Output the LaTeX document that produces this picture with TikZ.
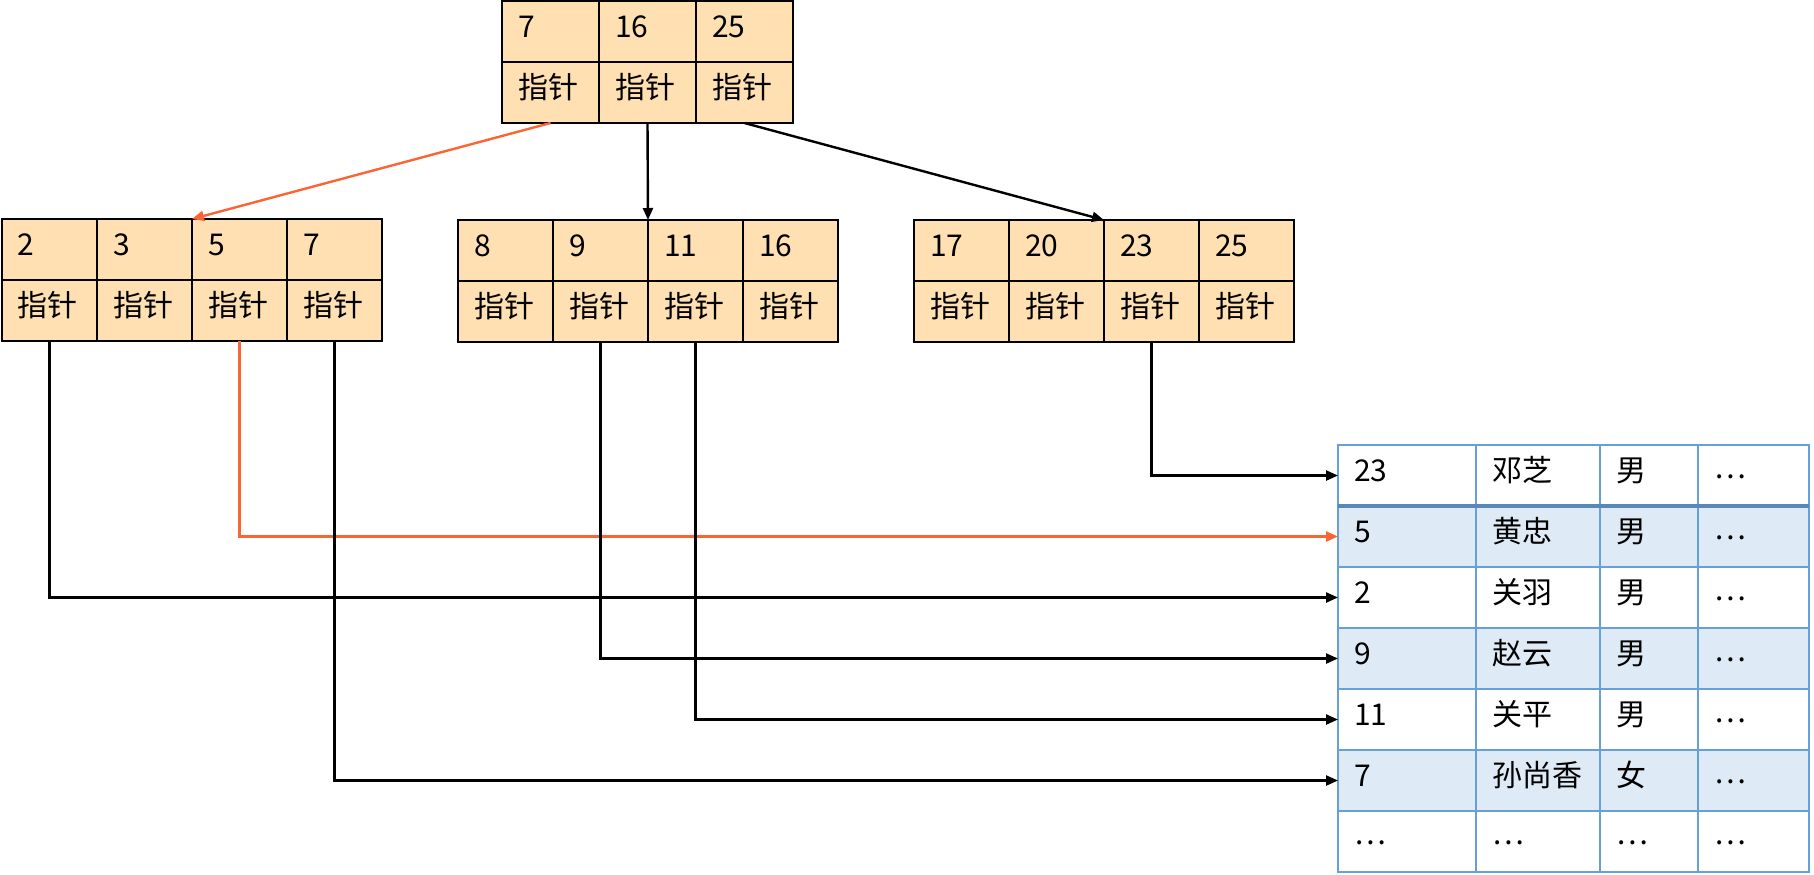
\documentclass[tikz,border=0pt]{standalone}
\usepackage{fontspec}
\setmainfont{Noto Sans CJK SC}
\usepackage{tikz}
\usetikzlibrary{positioning, arrows.meta}

\definecolor{keyfill}{RGB}{255,224,178}
\definecolor{rowblue}{RGB}{222,234,246}
\definecolor{tableline}{RGB}{102,160,218}
\definecolor{hitorange}{RGB}{250,102,51}

\newcommand{\moredots}{\raisebox{1.5pt}{⋯}}

\begin{document}
\begin{tikzpicture}[
  x=0.5pt, y=-0.5pt,
  node distance=0pt,
  every node/.style={font=\fontsize{15}{17}\selectfont, outer sep=0pt, inner ysep=0pt, inner xsep=8pt, text height=9pt, text depth=3.5pt, align=left},
  rootcell/.style={rectangle, draw, line width=1pt, fill=keyfill, minimum width=48.5pt, text width=32.5pt, minimum height=30.5pt},
  leafcell/.style={rectangle, draw, line width=1pt, fill=keyfill, minimum width=47.5pt, text width=31.5pt, minimum height=30.5pt},
  rowcell/.style={rectangle, draw=tableline, line width=1.2pt, minimum height=30.5pt},
  idcell/.style={rowcell, text width=53pt},
  namecell/.style={rowcell, text width=46pt},
  sexcell/.style={rowcell, text width=33pt},
  morecell/.style={rowcell, text width=39.5pt},
  stripe/.style={fill=rowblue},
  link/.style={-{Triangle[length=6pt, width=5pt]}, line width=1.2pt}
]
\useasboundingbox (0,0) rectangle (1814,874);

%% Root
\node[rootcell] (rk1) at (550.5,31.5) {7};
\node[rootcell, right=of rk1] (rk2) {16};
\node[rootcell, right=of rk2] (rk3) {25};
\node[rootcell, below=of rk1] (rp1) {指针};
\node[rootcell, below=of rk2] (rp2) {指针};
\node[rootcell, below=of rk3] (rp3) {指针};

%% Leaf A
\node[leafcell] (ak1) at (49.5,249.5) {2};
\node[leafcell, right=of ak1] (ak2) {3};
\node[leafcell, right=of ak2] (ak3) {5};
\node[leafcell, right=of ak3] (ak4) {7};
\node[leafcell, below=of ak1] (ap1) {指针};
\node[leafcell, below=of ak2] (ap2) {指针};
\node[leafcell, below=of ak3] (ap3) {指针};
\node[leafcell, below=of ak4] (ap4) {指针};

%% Leaf B
\node[leafcell] (bk1) at (505.5,250.5) {8};
\node[leafcell, right=of bk1] (bk2) {9};
\node[leafcell, right=of bk2] (bk3) {11};
\node[leafcell, right=of bk3] (bk4) {16};
\node[leafcell, below=of bk1] (bp1) {指针};
\node[leafcell, below=of bk2] (bp2) {指针};
\node[leafcell, below=of bk3] (bp3) {指针};
\node[leafcell, below=of bk4] (bp4) {指针};

%% Leaf C
\node[leafcell] (ck1) at (961.5,250.5) {17};
\node[leafcell, right=of ck1] (ck2) {20};
\node[leafcell, right=of ck2] (ck3) {23};
\node[leafcell, right=of ck3] (ck4) {25};
\node[leafcell, below=of ck1] (cp1) {指针};
\node[leafcell, below=of ck2] (cp2) {指针};
\node[leafcell, below=of ck3] (cp3) {指针};
\node[leafcell, below=of ck4] (cp4) {指针};

%% Table
\node[idcell] (id1) at (1407,475.5) {23};
\node[namecell, right=of id1] (name1) {邓芝};
\node[sexcell, right=of name1] (sex1) {男};
\node[morecell, right=of sex1] (more1) {\moredots};

\node[idcell, stripe, below=of id1] (id2) {5};
\node[namecell, stripe, right=of id2] (name2) {黄忠};
\node[sexcell, stripe, right=of name2] (sex2) {男};
\node[morecell, stripe, right=of sex2] (more2) {\moredots};

\node[idcell, below=of id2] (id3) {2};
\node[namecell, right=of id3] (name3) {关羽};
\node[sexcell, right=of name3] (sex3) {男};
\node[morecell, right=of sex3] (more3) {\moredots};

\node[idcell, stripe, below=of id3] (id4) {9};
\node[namecell, stripe, right=of id4] (name4) {赵云};
\node[sexcell, stripe, right=of name4] (sex4) {男};
\node[morecell, stripe, right=of sex4] (more4) {\moredots};

\node[idcell, below=of id4] (id5) {11};
\node[namecell, right=of id5] (name5) {关平};
\node[sexcell, right=of name5] (sex5) {男};
\node[morecell, right=of sex5] (more5) {\moredots};

\node[idcell, stripe, below=of id5] (id6) {7};
\node[namecell, stripe, right=of id6] (name6) {孙尚香};
\node[sexcell, stripe, right=of name6] (sex6) {女};
\node[morecell, stripe, right=of sex6] (more6) {\moredots};

\node[idcell, below=of id6] (id7) {\moredots};
\node[namecell, right=of id7] (name7) {\moredots};
\node[sexcell, right=of name7] (sex7) {\moredots};
\node[morecell, right=of sex7] (more7) {\moredots};

\draw[tableline!85!black, line width=2pt] (id1.south west) -- (more1.south east);

%% Connections
\draw[link, hitorange] (rp1.south) -- (ak3.north west);
\draw[link] (rp2.south) -- (bk3.north west);
\draw[link] (rp3.south) -- (ck3.north west);

\draw[link] (cp3.south) |- (id1.west);
\draw[link, hitorange] (ap3.south) |- (id2.west);
\draw[link] (ap1.south) |- (id3.west);
\draw[link] (bp2.south) |- (id4.west);
\draw[link] (bp3.south) |- (id5.west);
\draw[link] (ap4.south) |- (id6.west);

\end{tikzpicture}
\end{document}
